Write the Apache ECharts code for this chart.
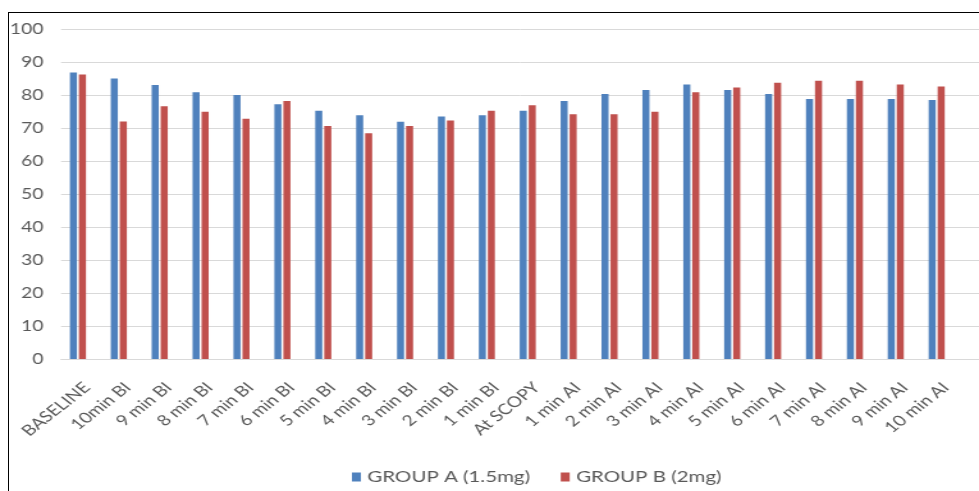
<!DOCTYPE html>
<html>
<head>
<meta charset="utf-8">
<script src="https://cdn.jsdelivr.net/npm/echarts@6/dist/echarts.min.js"></script>
<style>
  html, body { margin: 0; padding: 0; background: #fff; }
  #wrap { position: relative; width: 979px; height: 491px; overflow: hidden; background: #fff; }
  /* the chart is laid out narrow and widened horizontally, giving the wide lettering */
  #chart { position: absolute; left: 0; top: 0; width: 765px; height: 491px;
           transform: scaleX(1.27974); transform-origin: 0 0; }
  #frame { position: absolute; left: 8px; top: 12px; right: -4px; bottom: -4px;
           border-left: 1px solid #000; border-top: 1px solid #000; pointer-events: none; }
</style>
</head>
<body>
<div id="wrap">
  <div id="chart"></div>
  <div id="frame"></div>
</div>
<script>
// Time points around the procedure (BI = before intubation, AI = after intubation)
const categories = [
  'BASELINE', '10min BI', '9 min BI', '8 min BI', '7 min BI', '6 min BI',
  '5 min BI', '4 min BI', '3 min BI', '2 min BI', '1 min BI', 'At SCOPY',
  '1 min AI', '2 min AI', '3 min AI', '4 min AI', '5 min AI', '6 min AI',
  '7 min AI', '8 min AI', '9 min AI', '10 min AI'
];

const seriesNames = ['GROUP A (1.5mg)', 'GROUP B (2mg)'];

const groupA = [86.8, 85.0, 83.0, 80.8, 80.0, 77.2, 75.2, 73.9, 71.9, 73.5, 73.9,
                75.2, 78.2, 80.3, 81.5, 83.2, 81.5, 80.3, 78.8, 78.8, 78.8, 78.5];
const groupB = [86.2, 72.0, 76.6, 74.9, 72.8, 78.2, 70.6, 68.4, 70.6, 72.3, 75.2,
                76.9, 74.2, 74.2, 74.9, 80.8, 82.3, 83.7, 84.3, 84.3, 83.2, 82.6];

const yMin = 0;
const yMax = 100;
const yStep = 10;

const FONT = 'Lato';
const TEXT_COLOR = '#595959';
const GRID_COLOR = '#d9d9d9';

const chart = echarts.init(document.getElementById('chart'), null, { renderer: 'canvas' });

chart.setOption({
  animation: false,
  backgroundColor: '#ffffff',
  color: ['#4f81bd', '#c0504d'],
  legend: {
    data: seriesNames,
    left: 275,
    top: 469,
    padding: 0,
    icon: 'rect',
    itemWidth: 7,
    itemHeight: 9,
    itemGap: 24,
    textStyle: { color: TEXT_COLOR, fontFamily: FONT, fontSize: 16 }
  },
  grid: [
    // full-width panel that carries the horizontal gridlines
    { left: 47.7, right: 0, top: 29, height: 330 },
    // panel holding the bars and axis labels
    { left: 44.9, width: 703, top: 29, height: 330 }
  ],
  xAxis: [
    {
      gridIndex: 0, type: 'category', data: categories,
      axisLine: { show: true, lineStyle: { color: GRID_COLOR, width: 1 } },
      axisTick: { show: false }, axisLabel: { show: false }, splitLine: { show: false }
    },
    {
      gridIndex: 1, type: 'category', data: categories,
      axisLine: { show: false }, axisTick: { show: false },
      axisLabel: {
        interval: 0, rotate: 45, margin: 19,
        verticalAlign: 'top', lineHeight: 20,
        color: TEXT_COLOR, fontFamily: FONT, fontSize: 15
      }
    }
  ],
  yAxis: [
    {
      gridIndex: 0, type: 'value', min: yMin, max: yMax, interval: yStep,
      axisLine: { show: false }, axisTick: { show: false }, axisLabel: { show: false },
      splitLine: { show: true, lineStyle: { color: GRID_COLOR, width: 1 } }
    },
    {
      gridIndex: 1, type: 'value', min: yMin, max: yMax, interval: yStep,
      axisLine: { show: false }, axisTick: { show: false },
      splitLine: { show: false },
      axisLabel: { margin: 11, color: TEXT_COLOR, fontFamily: FONT, fontSize: 15 }
    }
  ],
  series: [
    {
      name: seriesNames[0], type: 'bar', xAxisIndex: 1, yAxisIndex: 1,
      data: groupA, barWidth: 5.5, barGap: '28%'
    },
    {
      name: seriesNames[1], type: 'bar', xAxisIndex: 1, yAxisIndex: 1,
      data: groupB, barWidth: 5.5, barGap: '28%'
    }
  ]
});
</script>
</body>
</html>
